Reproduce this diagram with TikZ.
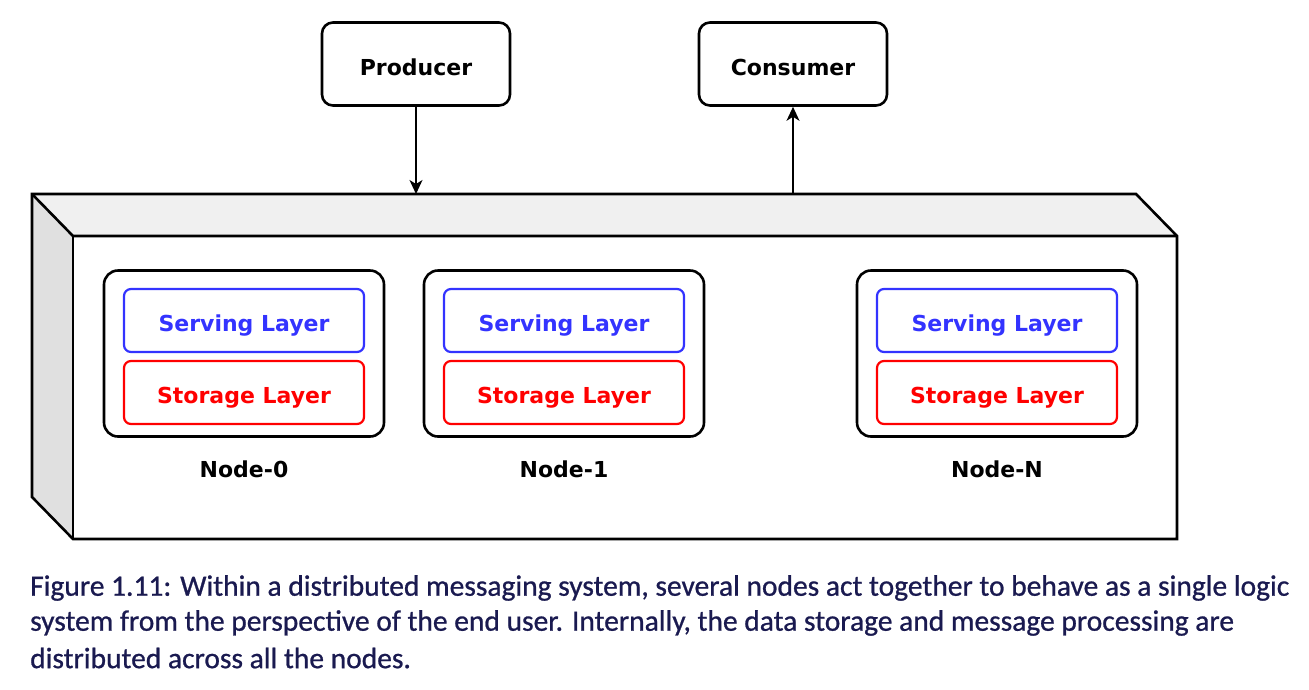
\documentclass[tikz,border=0pt]{standalone}
\usepackage{fontspec}
\setmainfont{DejaVu Sans}
\newfontfamily\capfont[FakeBold=0.8]{Carlito}
\usetikzlibrary{arrows.meta}
\definecolor{capcol}{RGB}{26,26,80}
\definecolor{bluel}{RGB}{51,51,255}
\definecolor{redl}{RGB}{255,0,0}
\definecolor{sidegray}{RGB}{224,224,224}
\definecolor{topgray}{RGB}{240,240,240}
\tikzset{
  lblfont/.style={font=\fontsize{22}{26}\selectfont\bfseries},
  ext/.style={rounded corners=11pt, draw=black, line width=2.6pt, minimum width=188pt, minimum height=83pt, lblfont, text height=22.5pt, text depth=0pt},
  nodebox/.style={rounded corners=14pt, draw=black, line width=2.6pt, minimum width=280pt, minimum height=166pt},
  serv/.style={rounded corners=7pt, draw=bluel, line width=2.2pt, text=bluel, minimum width=240pt, minimum height=63pt, lblfont, text height=22.5pt, text depth=0pt},
  stor/.style={rounded corners=7pt, draw=redl, line width=2.2pt, text=redl, minimum width=240pt, minimum height=63pt, lblfont, text height=22.5pt, text depth=0pt},
  lbl/.style={lblfont},
  edge/.style={line width=1.5pt, -{Stealth[length=14pt,width=13pt,inset=4pt]}},
  captxt/.style={text=capcol, font=\capfont\fontsize{29.5}{35}\selectfont, anchor=west, inner sep=0pt}
}
\begin{document}
\begin{tikzpicture}[x=1pt,y=-1pt]
\useasboundingbox (0,0) rectangle (1309,689);
% 3D box
\fill[topgray] (32,194) -- (1136,194) -- (1177,236) -- (73,236) -- cycle;
\fill[sidegray] (32,194) -- (73,236) -- (73,539) -- (32,497) -- cycle;
\draw[line width=2.6pt, line join=miter] (32,194) -- (1136,194) -- (1177,236) -- (1177,539) -- (73,539) -- (32,497) -- cycle;
\draw[line width=2.6pt] (32,194) -- (73,236) -- (1177,236);
\draw[line width=2.6pt] (73,236) -- (73,539);
\coordinate (boxtopP) at (416,194);
\coordinate (boxtopC) at (793,194);
% producer / consumer
\node[ext] (prod) at (416,64) {Producer};
\node[ext] (cons) at (793,64) {Consumer};
\draw[edge] (prod.south) -- (boxtopP);
\draw[edge] (boxtopC) -- (cons.south);
% nodes
\foreach \cx/\nm/\lab in {244/n0/Node-0, 564/n1/Node-1, 997/nN/Node-N}{
  \node[nodebox] (\nm) at (\cx,353.5) {};
  \node[serv] (\nm s) at (\cx,320.5) {Serving Layer};
  \node[stor] (\nm t) at (\cx,392.5) {Storage Layer};
  \node[lbl] (\nm l) at (\cx,469) {\lab};
}
% caption
\node[captxt] (c1) at (30,588) {Figure 1.11: Within a distributed messaging system, several nodes act together to behave as a single logic};
\node[captxt] (c2) at (30,623) {system from the perspective of the end user. Internally, the data storage and message processing are};
\node[captxt] (c3) at (30,658) {distributed across all the nodes.};
\end{tikzpicture}
\end{document}
